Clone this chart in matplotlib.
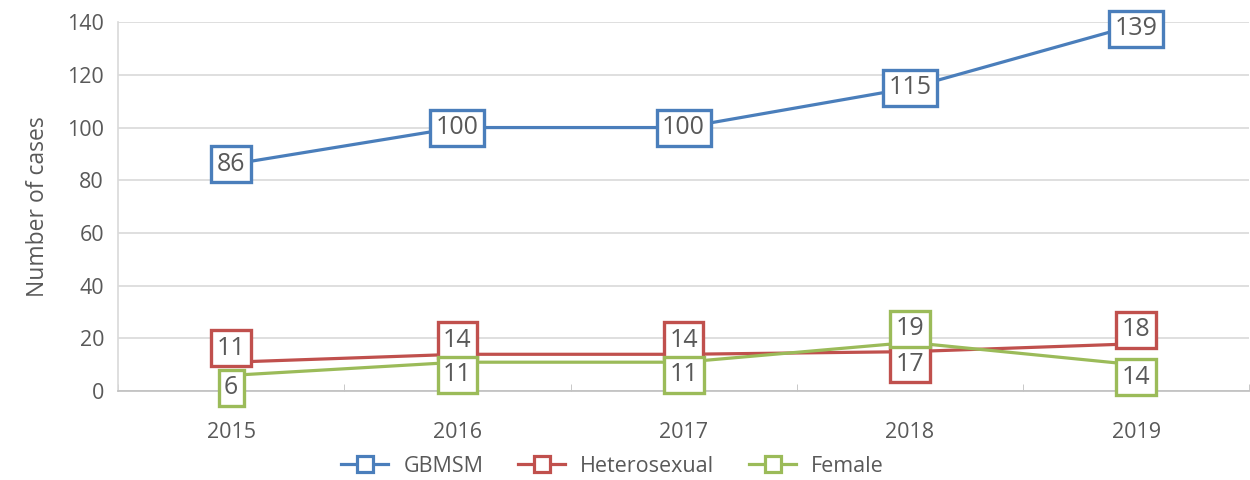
import numpy as np
import matplotlib
matplotlib.use('Agg')
import matplotlib.pyplot as plt
from matplotlib.lines import Line2D

plt.rcParams['font.family'] = ['Open Sans', 'DejaVu Sans']

years = ['2015', '2016', '2017', '2018', '2019']
gbmsm = [86, 100, 100, 115, 139]
hetero = [11, 14, 14, 15, 18]
female = [6, 11, 11, 18.5, 10]

# labels as printed on the chart
gbmsm_lbl = ['86', '100', '100', '115', '139']
hetero_lbl = ['11', '14', '14', '17', '18']
female_lbl = ['6', '11', '11', '19', '14']
# where each label sits relative to its point: 1 above, -1 below, 0 centred
gbmsm_pos = [0, 0, 0, 0, 2]
hetero_pos = [1, 1, 1, -1, 1]
female_pos = [-1, -1, -1, 1, -1]

blue = '#4a7ebb'
red = '#c0504d'
green = '#9bbb59'
grey = '#595959'

fig = plt.figure(figsize=(12.5, 4.8), dpi=100)
ax = fig.add_axes([0.0944, 0.185, 0.905, 0.769])

x = np.arange(len(years))
series = [
    (gbmsm, gbmsm_lbl, gbmsm_pos, blue, 'GBMSM'),
    (hetero, hetero_lbl, hetero_pos, red, 'Heterosexual'),
    (female, female_lbl, female_pos, green, 'Female'),
]

for vals, lbls, pos, col, name in series:
    ax.plot(x, vals, color=col, lw=2.3, zorder=3)
    for xi, v, t, p in zip(x, vals, lbls, pos):
        # 2 = nudged down to stay inside the plot area
        dy = {1: 10, -1: -9, 0: 0, 2: -3}[p]
        ax.annotate(t, (xi, v), xytext=(0, dy), textcoords='offset points',
                    ha='center', va='center', fontsize=18, color=grey, zorder=5,
                    bbox=dict(boxstyle='square,pad=0.22', fc='white', ec=col, lw=2.4))

ax.set_xlim(-0.5, 4.5)
ax.set_ylim(0, 140)
ax.set_yticks(range(0, 141, 20))
ax.set_xticks(x)
ax.set_xticklabels(years)
ax.set_xticks(np.arange(-0.5, 4.6, 1), minor=True)
ax.tick_params(axis='y', length=0, labelsize=15.5, labelcolor=grey, pad=10)
ax.tick_params(axis='x', which='major', length=0, labelsize=15.5, labelcolor=grey, pad=22)
ax.tick_params(axis='x', which='minor', length=5, direction='in', color='#bfbfbf')
ax.grid(axis='y', color='#d9d9d9', lw=1.2)
ax.set_axisbelow(True)
for s in ['top', 'right']:
    ax.spines[s].set_visible(False)
ax.spines['left'].set_color('#d9d9d9')
ax.spines['bottom'].set_color('#bfbfbf')
ax.spines['left'].set_linewidth(1.2)
ax.spines['bottom'].set_linewidth(1.2)
ax.set_ylabel('Number of cases', fontsize=16.5, color=grey, labelpad=12)

handles = [Line2D([], [], color=c, lw=2.3, marker='s', markersize=11,
                  markerfacecolor='white', markeredgecolor=c, markeredgewidth=2.3)
           for _, _, _, c, _ in series]
leg = fig.legend(handles, [s[4] for s in series], loc='center', bbox_to_anchor=(0.49, 0.029),
                 ncol=3, frameon=False, fontsize=15.5, handlelength=2.2, columnspacing=1.6,
                 handletextpad=0.7)
for t in leg.get_texts():
    t.set_color(grey)

fig.savefig('out.png', dpi=100)
